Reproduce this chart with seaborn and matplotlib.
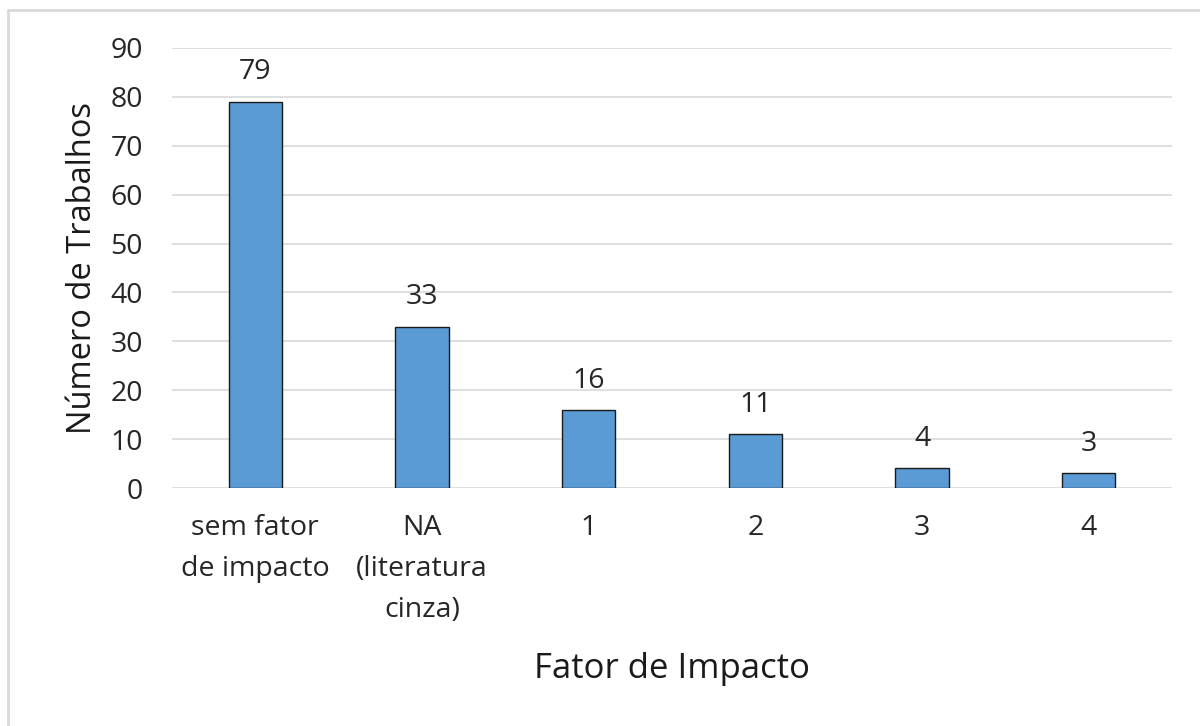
import matplotlib
matplotlib.use("Agg")
import matplotlib.pyplot as plt
from matplotlib.lines import Line2D
import seaborn as sns
import pandas as pd

categories = ["sem fator\nde impacto", "NA\n(literatura\ncinza)", "1", "2", "3", "4"]
counts = [79, 33, 16, 11, 4, 3]
y_ticks = [0, 10, 20, 30, 40, 50, 60, 70, 80, 90]

sns.set_theme(style="white")
plt.rcParams["font.family"] = ["Open Sans", "DejaVu Sans"]

df = pd.DataFrame({"cat": categories, "n": counts})

fig = plt.figure(figsize=(12, 7.26), dpi=100)
ax = fig.add_axes([0.1433, 0.3278, 0.8334, 0.6061])

sns.barplot(data=df, x="cat", y="n", ax=ax, color="#5B9BD5", saturation=1,
            width=0.32, edgecolor="#1a1a1a", linewidth=1.0, zorder=3)

ax.set_ylim(0, 90)
ax.set_xlim(-0.5, len(categories) - 0.5)
ax.set_yticks(y_ticks)
ax.yaxis.grid(True, color="#D9D9D9", linewidth=1.2, zorder=0)
ax.set_axisbelow(True)
for s in ax.spines.values():
    s.set_visible(False)

ax.tick_params(axis="both", length=0, labelsize=20.5, colors="#262626")
ax.tick_params(axis="y", pad=21)
ax.tick_params(axis="x", pad=19)
for lbl in ax.get_xticklabels():
    lbl.set_linespacing(1.62)

ax.set_xlabel("Fator de Impacto", fontsize=25, color="#1a1a1a", labelpad=20)
ax.set_ylabel("Número de Trabalhos", fontsize=23.5, color="#1a1a1a", labelpad=8)

for i, v in enumerate(counts):
    ax.annotate(str(v), (i, v), xytext=(0, 11), textcoords="offset points",
                ha="center", va="bottom", fontsize=20.5, color="#262626")

# thin frame edges along the top and left of the canvas
fig.add_artist(Line2D([8 / 1200, 8 / 1200], [0, 1 - 10 / 726], transform=fig.transFigure,
                      color="#D9D9D9", linewidth=2))
fig.add_artist(Line2D([8 / 1200, 1], [1 - 10 / 726, 1 - 10 / 726], transform=fig.transFigure,
                      color="#D9D9D9", linewidth=2))

fig.savefig("out.png", dpi=100)
